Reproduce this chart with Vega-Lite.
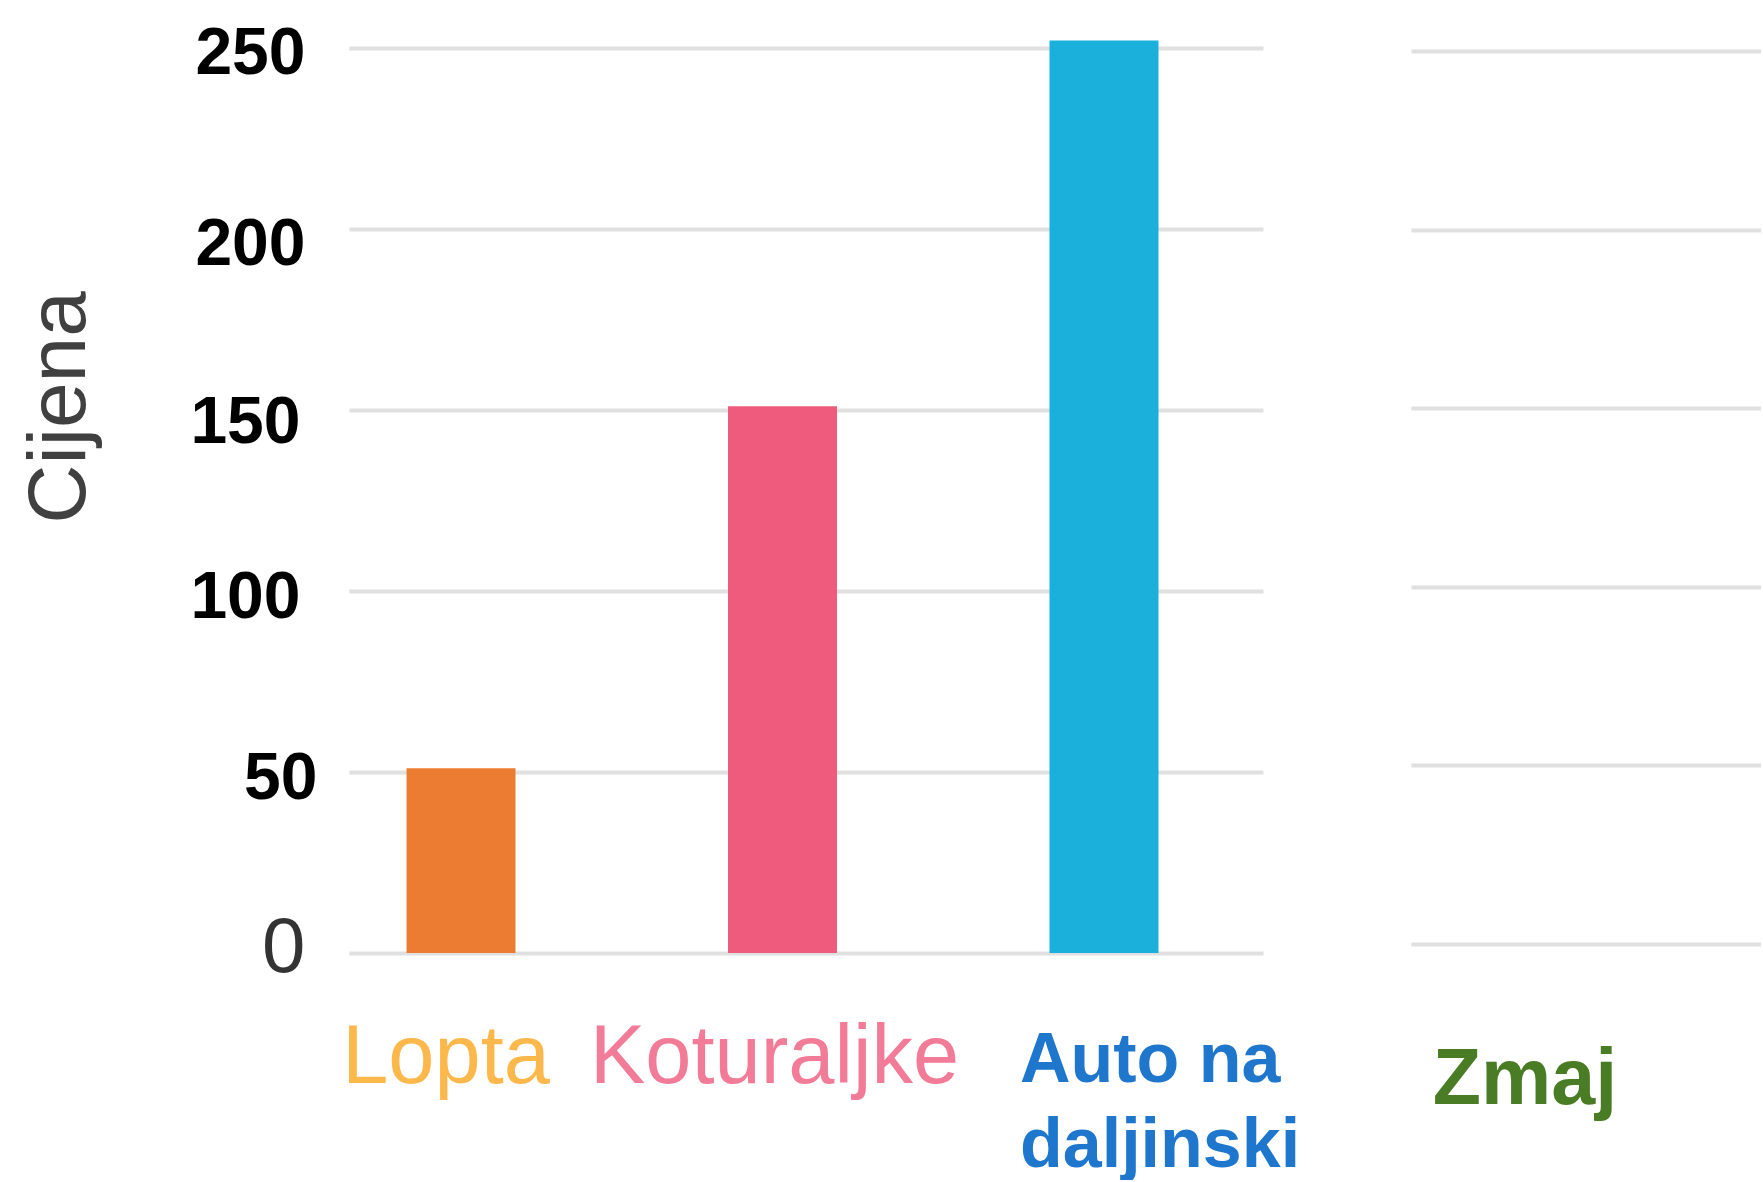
{
  "$schema": "https://vega.github.io/schema/vega-lite/v6.json",
  "background": "white",
  "padding": {"left": 18, "top": 20, "right": 0, "bottom": 0},
  "data": {"values": [
    {"toy": "Lopta", "price": 51},
    {"toy": "Koturaljke", "price": 151},
    {"toy": "Auto na daljinski", "price": 252},
    {"toy": "Zmaj", "price": null}
  ]},
  "spacing": 111,
  "config": {"view": {"stroke": null}, "font": "Liberation Sans"},
  "hconcat": [
    {
      "width": 914,
      "height": 916,
      "transform": [{"filter": "datum.toy != 'Zmaj'"}],
      "mark": {"type": "bar"},
      "encoding": {
        "x": {
          "field": "toy", "type": "nominal",
          "scale": {"domain": ["Lopta", "Koturaljke", "Auto na daljinski"], "paddingInner": 0.661, "paddingOuter": 0.252, "align": 0.355},
          "axis": {
            "title": null, "domain": false, "ticks": false, "tickSize": 0, "grid": false,
            "labelAngle": 0, "labelFont": "Liberation Sans",
            "labelLineHeight": 85, "labelBound": false, "labelOverlap": false, "labelFlush": false, "labelBaseline": "top",
            "labelLimit": 2000,
            "labelExpr": "datum.value == 'Auto na daljinski' ? ['Auto na', 'daljinski'] : datum.label",
            "labelColor": {"expr": "datum.value == 'Lopta' ? '#FDB84C' : datum.value == 'Koturaljke' ? '#F27C97' : '#1F76CD'"},
            "labelFontWeight": {"expr": "datum.value == 'Auto na daljinski' ? 'bold' : 'normal'"},
            "labelFontSize": {"expr": "datum.value == 'Auto na daljinski' ? 70 : 83"},
            "labelAlign": {"expr": "datum.value == 'Auto na daljinski' ? 'left' : 'center'"},
            "labelOffset": {"expr": "datum.value == 'Lopta' ? -15 : datum.value == 'Koturaljke' ? -8 : -84"},
            "labelPadding": {"expr": "datum.value == 'Auto na daljinski' ? 73 : 63"}
          }
        },
        "y": {
          "field": "price", "type": "quantitative",
          "scale": {"domain": [0, 253], "nice": false},
          "axis": {
            "title": "Cijena", "titleFont": "Liberation Sans", "titleFontSize": 82, "titleFontWeight": "normal",
            "titleColor": "#404040", "titleAngle": 270, "titleAlign": "center", "titleBaseline": "bottom",
            "titleX": -248, "titleY": 370,
            "values": [0, 50, 100, 150, 200, 250],
            "domain": false, "ticks": false, "tickSize": 0,
            "grid": true, "gridColor": "#E0E0E0", "gridWidth": 4,
            "labelFont": "Liberation Sans",
            "labelBound": false, "labelOverlap": false, "labelFlush": false,
            "labelColor": {"expr": "datum.value == 0 ? '#333333' : '#000000'"},
            "labelFontWeight": {"expr": "datum.value == 0 ? 'normal' : 'bold'"},
            "labelFontSize": {"expr": "datum.value == 0 ? 78 : 66"},
            "labelOffset": {"expr": "datum.value == 250 ? 6 : datum.value == 200 ? 16 : datum.value == 150 ? 13 : datum.value == 0 ? -5 : 7"},
            "labelPadding": {"expr": "datum.value == 150 || datum.value == 100 ? 49 : datum.value == 50 ? 32 : 44"}
          }
        },
        "color": {
          "field": "toy", "type": "nominal",
          "scale": {"domain": ["Lopta", "Koturaljke", "Auto na daljinski"], "range": ["#EC7C31", "#EF5B7D", "#1BAFDC"]},
          "legend": null
        }
      }
    },
    {
      "width": 350,
      "height": 907,
      "transform": [{"filter": "datum.toy == 'Zmaj'"}],
      "mark": {"type": "bar", "color": "#4A7C25"},
      "encoding": {
        "x": {
          "field": "toy", "type": "nominal",
          "scale": {"domain": ["Zmaj"], "paddingInner": 0, "paddingOuter": 0.2675, "align": 0},
          "axis": {
            "title": null, "domain": false, "ticks": false, "tickSize": 0, "grid": false,
            "labelAngle": 0, "labelPadding": 97, "labelFont": "Liberation Sans", "labelFontSize": 79,
            "labelFontWeight": "bold", "labelColor": "#4A7C25", "labelBaseline": "top", "labelLimit": 2000,
            "labelBound": false, "labelOverlap": false, "labelFlush": false
          }
        },
        "y": {
          "field": "price", "type": "quantitative",
          "scale": {"domain": [0, 254], "nice": false},
          "axis": {
            "title": null, "values": [0, 50, 100, 150, 200, 250],
            "domain": false, "ticks": false, "tickSize": 0, "labels": false,
            "grid": true, "gridColor": "#E0E0E0", "gridWidth": 4
          }
        }
      }
    }
  ]
}
